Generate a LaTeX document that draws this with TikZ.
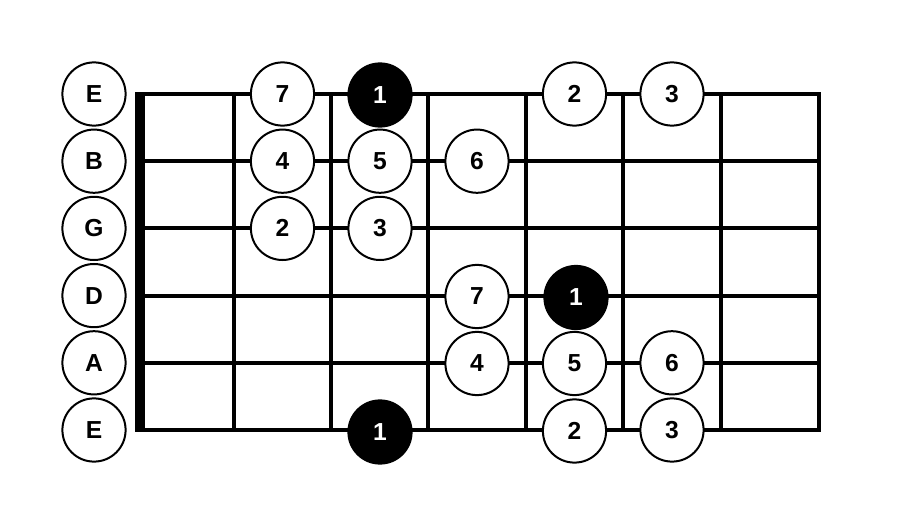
\documentclass[tikz,border=0pt]{standalone}
\usepackage{fontspec}
\setmainfont{Liberation Sans}
\usepackage{tikz}

\begin{document}
\begin{tikzpicture}[x=0.025cm, y=-0.025cm]
\useasboundingbox (0,0) rectangle (897,519);
% frets and strings
\foreach \fx in {234,331,428,526,623,721,819}
    \draw[line width=0.1cm, line cap=rect] (\fx,94) -- (\fx,430);
\foreach \sy in {94,161.2,228.4,295.6,362.8,430}
    \draw[line width=0.1cm, line cap=rect] (140,\sy) -- (819,\sy);
% nut
\fill (135,92) rectangle (145,432);
\begin{scope}[every node/.style={circle,draw,line width=0.05cm,minimum size=1.58cm,inner sep=0pt,fill=white,font=\bfseries\fontsize{17.5}{20}\selectfont}]
    \node (le) at (94,94) {E};
    \node (lb) at (94,161.2) {B};
    \node (lg) at (94,228.4) {G};
    \node (ld) at (94,295.6) {D};
    \node (la) at (94,362.8) {A};
    \node (lE) at (94,430) {E};
    \node (e7) at (282.5,94) {7};
    \node (e2) at (574.5,94) {2};
    \node (e3) at (672,94) {3};
    \node (b4) at (282.5,161.2) {4};
    \node (b5) at (380,161.2) {5};
    \node (b6) at (477,161.2) {6};
    \node (g2) at (282.5,228.4) {2};
    \node (g3) at (380,228.4) {3};
    \node (d7) at (477,296.5) {7};
    \node (a4) at (477,363.5) {4};
    \node (a5) at (574.5,363.5) {5};
    \node (a6) at (672,362.8) {6};
    \node (E2) at (574.5,431) {2};
    \node (E3) at (672,430) {3};
\end{scope}
\begin{scope}[every node/.style={circle,draw,line width=0.05cm,minimum size=1.58cm,inner sep=0pt,fill=black,text=white,font=\bfseries\fontsize{17.5}{20}\selectfont}]
    \node (e1) at (380,95) {1};
    \node (d1) at (576,297.5) {1};
    \node (E1) at (380,432) {1};
\end{scope}
\end{tikzpicture}
\end{document}
